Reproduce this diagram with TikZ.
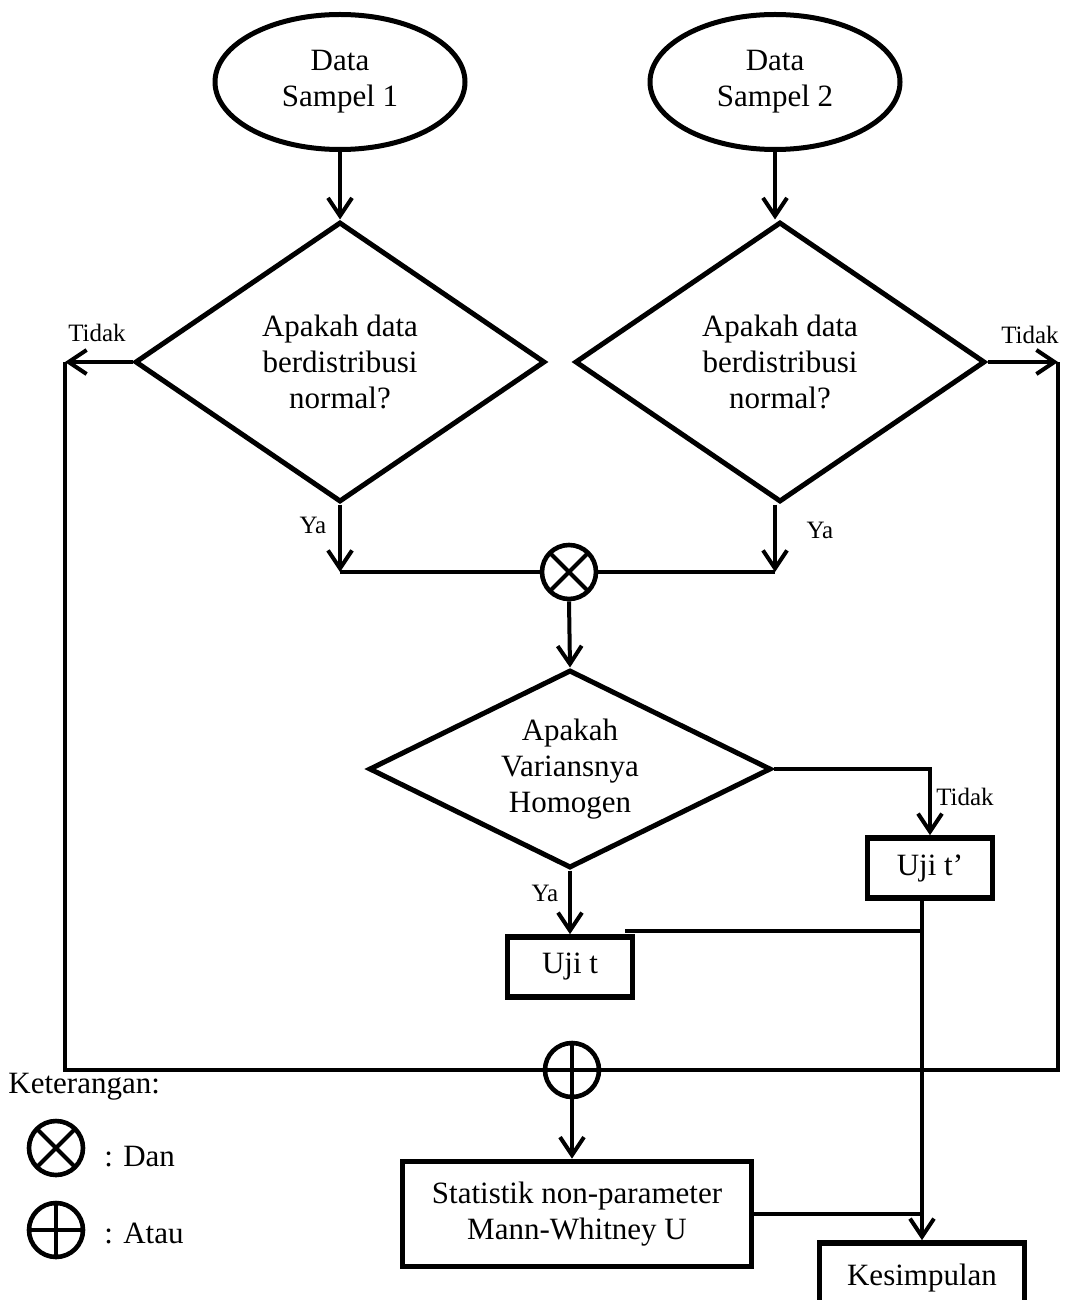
\documentclass[tikz,border=0pt]{standalone}
\usepackage{fontspec}
\setmainfont{Liberation Serif}
\usetikzlibrary{shapes.geometric,arrows.meta,calc}
\begin{document}
\begin{tikzpicture}[x=0.5pt,y=-0.5pt,
  txt/.style={font=\fontsize{15.5}{18}\selectfont,align=center},
  lbl/.style={font=\fontsize{12.5}{14}\selectfont,inner sep=0pt},
  startnode/.style={ellipse,draw,line width=2.5pt,minimum width=125pt,minimum height=67.5pt,inner sep=0pt,txt},
  decide/.style={diamond,draw,line width=2.5pt,inner sep=0pt,txt},
  procbox/.style={rectangle,draw,line width=2.8pt,inner sep=0pt,txt},
  conn/.style={line width=2pt},
  arr/.style={conn,-{Straight Barb[length=9pt,width=12pt]}},
  andsym/.style={circle,draw,line width=2.3pt,minimum size=27pt,inner sep=0pt,
    path picture={\draw[line width=2pt] (path picture bounding box.north west) -- (path picture bounding box.south east)
      (path picture bounding box.north east) -- (path picture bounding box.south west);}},
  orsym/.style={circle,draw,line width=2.3pt,minimum size=27pt,inner sep=0pt,
    path picture={\draw[line width=2pt] (path picture bounding box.north) -- (path picture bounding box.south)
      (path picture bounding box.west) -- (path picture bounding box.east);}}
]
\useasboundingbox (0,0) rectangle (1067,1300);

% start ellipses
\node[startnode] (e1) at (340,82) {Data\\Sampel 1};
\node[startnode] (e2) at (775,82) {Data\\Sampel 2};

% normality decisions
\node[decide,minimum width=205pt,minimum height=140pt] (d1) at (340,362) {Apakah data\\berdistribusi\\normal?};
\node[decide,minimum width=205pt,minimum height=140pt] (d2) at (780,362) {Apakah data\\berdistribusi\\normal?};

% and / or symbols
\node[andsym] (and) at (569,572) {};
\node[orsym] (or) at (572,1070) {};

% variance decision
\node[decide,aspect=2,minimum width=201pt,minimum height=99pt] (d3) at (570,769) {Apakah\\Variansnya\\Homogen};

% boxes
\node[procbox,minimum width=62.5pt,minimum height=30pt] (ujit) at (570,967) {Uji t};
\node[procbox,minimum width=62.5pt,minimum height=30pt] (ujit2) at (930,868) {Uji t’};
\node[procbox,minimum width=174.5pt,minimum height=52.5pt] (stat) at (577,1214) {Statistik non-parameter\\Mann-Whitney U};
\node[procbox,minimum width=102.5pt,minimum height=35pt] (kes) at (922,1278) {Kesimpulan};

% helper coordinates
\coordinate (L1) at (65,362);
\coordinate (L2) at (65,1070);
\coordinate (R1) at (1058,362);
\coordinate (R2) at (1058,1070);
\coordinate (J1) at (340,572);
\coordinate (J2) at (775,572);
\coordinate (V1) at (922,898);
\coordinate (U1) at ($(ujit.north east)+(-10,-3)$);

% connectors
\draw[arr] (e1.south) -- (d1.north);
\draw[arr] (e2.south) -- (e2.south |- d2.north);
\draw[arr] (d1.west) -- (L1);
\draw[conn] (L1) -- (L2) -- (or.west);
\draw[arr] (d2.east) -- (R1);
\draw[conn] (R1) -- (R2) -- (or.east);
\draw[arr] (d1.south) -- (J1);
\draw[arr] (d2.south -| J2) -- (J2);
\draw[conn] (J1) -- (and.west);
\draw[conn] (J2) -- (and.east);
\draw[arr] (and.south) -- (d3.north);
\draw[arr] (d3.east) -| (ujit2.north);
\draw[arr] (d3.south) -- (ujit.north);
\draw[arr] (V1) -- (kes.north);
\draw[conn] (U1) -- (U1 -| V1);
\draw[conn] (stat.east) -- (stat.east -| V1);
\draw[arr] (or.south) -- (or.south |- stat.north);

% branch labels
\node[lbl] (t1) at (97,333) {Tidak};
\node[lbl] (t2) at (1030,335) {Tidak};
\node[lbl] (y1) at (313,525) {Ya};
\node[lbl] (y2) at (820,530) {Ya};
\node[lbl] (t3) at (965,797) {Tidak};
\node[lbl] (y3) at (545,893) {Ya};

% legend
\node[txt,anchor=west,inner sep=0pt] (ket) at (8,1087) {Keterangan:};
\node[andsym] (land) at (56,1148) {};
\node[txt,anchor=west,inner sep=0pt] (ldan) at (104,1157) {: Dan};
\node[orsym] (lor) at (56,1230) {};
\node[txt,anchor=west,inner sep=0pt] (latau) at (104,1233) {: Atau};
\end{tikzpicture}
\end{document}
